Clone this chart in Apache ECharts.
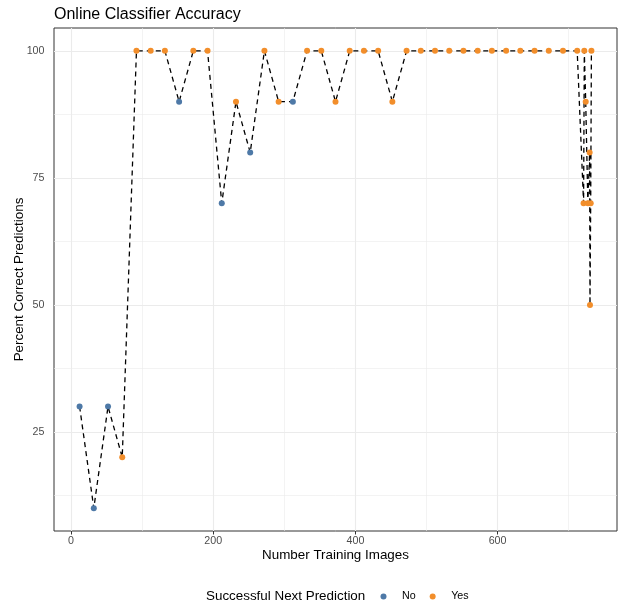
<!DOCTYPE html>
<html><head><meta charset="utf-8">
<script src="https://cdn.jsdelivr.net/npm/echarts@6/dist/echarts.min.js"></script>
<style>html,body{margin:0;padding:0;background:#fff}#chart{width:621px;height:606px}</style>
</head><body><div id="chart"></div>
<script>
const trainingImages = [12,32,52,72,92,112,132,152,172,192,212,232,252,272,292,312,332,352,372,392,412,432,452,472,492,512,532,552,572,592,612,632,652,672,692,712,721,722,724,727,729.5,730,731,732];
const percentCorrect = [30,10,30,20,100,100,100,90,100,100,70,90,80,100,90,90,100,100,90,100,100,100,90,100,100,100,100,100,100,100,100,100,100,100,100,100,70,100,90,70,80,50,70,100];
const nextPrediction = ['No','No','No','Yes','Yes','Yes','Yes','No','Yes','Yes','No','Yes','No','Yes','Yes','No','Yes','Yes','Yes','Yes','Yes','Yes','Yes','Yes','Yes','Yes','Yes','Yes','Yes','Yes','Yes','Yes','Yes','Yes','Yes','Yes','Yes','Yes','Yes','Yes','Yes','Yes','Yes','Yes'];
const categories = ['No','Yes'];
const categoryColors = {No:'#4E79A7', Yes:'#F28E2B'};
const xTicks = [0,200,400,600];
const xMinorTicks = [100,300,500,700];
const yTicks = [25,50,75,100];
const yMinorTicks = [12.5,37.5,62.5,87.5];

function expand(vals){const lo=Math.min(...vals),hi=Math.max(...vals),r=hi-lo;return [lo-0.05*r,hi+0.05*r];}
const xr = expand(trainingImages), yr = expand(percentCorrect);

const points = trainingImages.map((x,i)=>[x,percentCorrect[i]]);
const FONT = "'Liberation Sans', Arial, Helvetica, sans-serif";
const gridLines = [];
xTicks.forEach(v=>gridLines.push({xAxis:v,lineStyle:{width:1.1}}));
xMinorTicks.forEach(v=>gridLines.push({xAxis:v,lineStyle:{width:0.6}}));
yTicks.forEach(v=>gridLines.push({yAxis:v,lineStyle:{width:1.1}}));
yMinorTicks.forEach(v=>gridLines.push({yAxis:v,lineStyle:{width:0.6}}));

const chart = echarts.init(document.getElementById('chart'), null, {renderer:'canvas'});
chart.setOption({
  animation:false,
  textStyle:{fontFamily:FONT},
  title:[
    {text:'Online Classifier Accuracy', left:49, top:2, textStyle:{fontSize:16, fontWeight:'normal', color:'#000', fontFamily:FONT}},
    {text:'Successful Next Prediction', left:201, top:585, textStyle:{fontSize:13.4, fontWeight:'normal', color:'#000', fontFamily:FONT}}
  ],
  legend:{data:categories, left:375.5, top:586, icon:'circle', itemWidth:27, itemHeight:6, itemGap:14,
    textStyle:{fontSize:10.7, color:'#000', fontFamily:FONT}},
  grid:{left:54, right:4, top:28, bottom:75, show:true, borderColor:'#333333', borderWidth:1, backgroundColor:'#fff',
    containLabel:false, outerBoundsMode:'none'},
  xAxis:{type:'value', min:xr[0], max:xr[1],
    axisLine:{show:false},
    axisTick:{show:true, customValues:xTicks, length:3.5, lineStyle:{color:'#333333', width:1}},
    axisLabel:{customValues:xTicks, color:'#4D4D4D', fontSize:10.7, margin:5, fontFamily:FONT},
    splitLine:{show:false},
    name:'Number Training Images', nameLocation:'middle', nameGap:18, nameMoveOverlap:false,
    nameTextStyle:{fontSize:13.4, color:'#000', fontFamily:FONT}},
  yAxis:{type:'value', min:yr[0], max:yr[1],
    axisLine:{show:false},
    axisTick:{show:true, customValues:yTicks, length:3.5, lineStyle:{color:'#333333', width:1}},
    axisLabel:{customValues:yTicks, color:'#4D4D4D', fontSize:10.7, margin:9.5, fontFamily:FONT},
    splitLine:{show:false},
    name:'Percent Correct Predictions', nameLocation:'middle', nameGap:28, nameRotate:90, nameMoveOverlap:false,
    nameTextStyle:{fontSize:13.4, color:'#000', fontFamily:FONT}},
  series:[
    {type:'line', name:'grid', data:[], silent:true, z:1,
      markLine:{silent:true, z:1, symbol:['none','none'], label:{show:false}, animation:false,
        lineStyle:{color:'#EBEBEB', type:'solid'}, emphasis:{disabled:true}, data:gridLines}},
    {type:'line', name:'path', data:points, showSymbol:false, symbol:'none', silent:true, z:10,
      lineStyle:{color:'#000', width:1.3, type:[5,4]}},
    ...categories.map(c=>({type:'scatter', name:c, z:11, symbolSize:6,
      itemStyle:{color:categoryColors[c], opacity:1},
      data:points.filter((p,i)=>nextPrediction[i]===c)}))
  ]
});
</script></body></html>
